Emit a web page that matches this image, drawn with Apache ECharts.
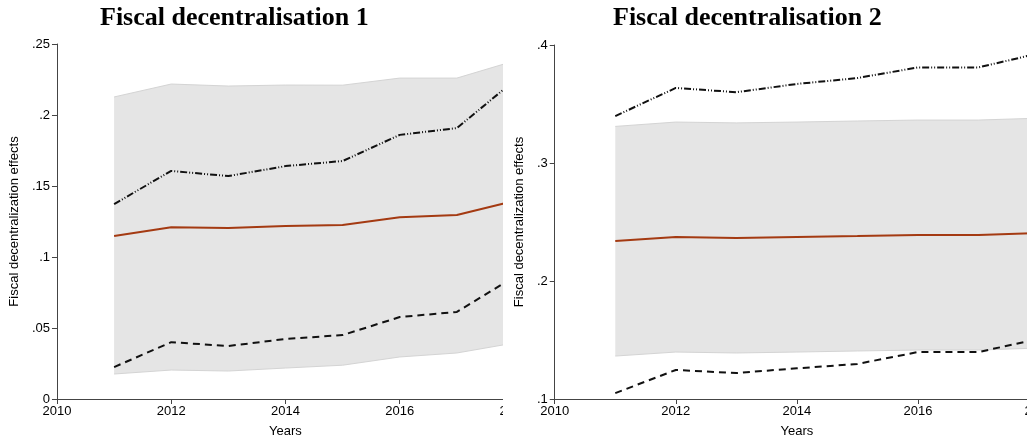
<!DOCTYPE html>
<html>
<head>
<meta charset="utf-8">
<script src="https://cdn.jsdelivr.net/npm/echarts@6/dist/echarts.min.js"></script>
<style>
  html, body { margin: 0; padding: 0; background: #fff; }
  body { width: 1027px; height: 445px; position: relative; overflow: hidden; }
  .clip { position: absolute; top: 0; height: 445px; overflow: hidden; }
  .inner { position: absolute; left: 0; top: 0; height: 445px; }
</style>
</head>
<body>
<div class="clip" style="left:0;width:503px;"><div id="c1" class="inner" style="width:600px;"></div></div>
<div class="clip" style="left:505px;width:522px;"><div id="c2" class="inner" style="width:620px;"></div></div>
<script>
// ---- data ----
const axisYears = ['2010', '2011', '2012', '2013', '2014', '2015', '2016', '2017', '2018'];
const years = [2011, 2012, 2013, 2014, 2015, 2016, 2017, 2018];

// Panel 1: Fiscal decentralisation 1
const fd1BandLow  = [0.0176, 0.0204, 0.0197, 0.0218, 0.0238, 0.0296, 0.0324, 0.0394];
const fd1BandHigh = [0.2127, 0.2218, 0.2204, 0.2211, 0.2210, 0.2260, 0.2260, 0.2380];
const fd1Effect   = [0.1148, 0.1210, 0.1204, 0.1218, 0.1225, 0.1280, 0.1296, 0.1394];
const fd1UpperLn  = [0.1373, 0.1606, 0.1570, 0.1640, 0.1676, 0.1860, 0.1908, 0.2240];
const fd1LowerLn  = [0.0225, 0.0400, 0.0373, 0.0423, 0.0450, 0.0577, 0.0613, 0.0859];

// Panel 2: Fiscal decentralisation 2
const fd2BandLow  = [0.1364, 0.1398, 0.1390, 0.1398, 0.1407, 0.1415, 0.1415, 0.1432];
const fd2BandHigh = [0.3310, 0.3347, 0.3340, 0.3347, 0.3356, 0.3364, 0.3364, 0.3380];
const fd2Effect   = [0.2339, 0.2373, 0.2364, 0.2373, 0.2381, 0.2390, 0.2390, 0.2407];
const fd2UpperLn  = [0.3398, 0.3636, 0.3600, 0.3670, 0.3720, 0.3810, 0.3810, 0.3930];
const fd2LowerLn  = [0.1050, 0.1246, 0.1220, 0.1260, 0.1297, 0.1398, 0.1398, 0.1510];

const titles = ['Fiscal decentralisation 1', 'Fiscal decentralisation 2'];
const yName = 'Fiscal decentralization effects';
const xName = 'Years';

// ---- helpers ----
// align a series (2011..2018) to the axis categories (2010..2018)
function aligned(vals) {
  return axisYears.map(c => {
    const i = years.indexOf(+c);
    return i < 0 ? null : vals[i];
  });
}
function fmt(v) {
  const s = String(+v.toFixed(2));
  return s === '0' ? '0' : s.replace(/^0\./, '.');
}

function makeOption(cfg) {
  const diff = cfg.high.map((h, i) => h - cfg.low[i]);
  const axisColor = '#444';
  const font = 'Liberation Sans, Arial, sans-serif';
  return {
    animation: false,
    backgroundColor: '#fff',
    graphic: [{
      type: 'text', left: cfg.titleX, top: 5,
      style: { text: cfg.title, font: 'bold 26px "Liberation Serif", "Times New Roman", serif', fill: '#000' }
    }],
    grid: { left: cfg.gridLeft, top: cfg.gridTop, width: cfg.gridWidth, height: cfg.gridHeight, containLabel: false },
    xAxis: {
      type: 'category', data: axisYears, boundaryGap: false,
      axisLine: { show: true, lineStyle: { color: axisColor, width: 1 } },
      axisTick: { show: true, length: 5, interval: 1, lineStyle: { color: axisColor } },
      axisLabel: { color: '#000', fontSize: 13, fontFamily: font, margin: 6, interval: 1 },
      splitLine: { show: false },
      name: xName, nameLocation: 'middle', nameGap: 26,
      nameTextStyle: { color: '#000', fontSize: 13, fontFamily: font }
    },
    yAxis: {
      type: 'value', min: cfg.yMin, max: cfg.yMax, interval: cfg.yInt,
      axisLine: { show: true, lineStyle: { color: axisColor, width: 1 } },
      axisTick: { show: true, length: 5, lineStyle: { color: axisColor } },
      axisLabel: { color: '#000', fontSize: 13, fontFamily: font, margin: 7, formatter: fmt },
      splitLine: { show: false },
      name: yName, nameLocation: 'middle', nameGap: cfg.yNameGap, nameRotate: 90,
      nameTextStyle: { color: '#000', fontSize: 13, fontFamily: font }
    },
    series: [
      { type: 'line', data: aligned(cfg.low), stack: 'band', symbol: 'none', z: 1,
        lineStyle: { color: '#d4d4d4', width: 1 } },
      { type: 'line', data: aligned(diff), stack: 'band', symbol: 'none', z: 1,
        lineStyle: { color: '#d4d4d4', width: 1 },
        areaStyle: { color: '#e5e5e5', opacity: 1 } },
      { type: 'line', data: aligned(cfg.effect), symbol: 'none', z: 3,
        lineStyle: { color: '#a43a12', width: 2 } },
      { type: 'line', data: aligned(cfg.upperLn), symbol: 'none', z: 3,
        lineStyle: { color: '#111', width: 2, type: [7, 2, 1, 2, 1, 2] } },
      { type: 'line', data: aligned(cfg.lowerLn), symbol: 'none', z: 3,
        lineStyle: { color: '#111', width: 2, type: [7, 5] } }
    ]
  };
}

const c1 = echarts.init(document.getElementById('c1'), null, { renderer: 'canvas' });
c1.setOption(makeOption({
  title: titles[0], titleX: 100,
  gridLeft: 55, gridTop: 44, gridWidth: 459, gridHeight: 355,
  yMin: 0, yMax: 0.25, yInt: 0.05, yNameGap: 34,
  low: fd1BandLow, high: fd1BandHigh, effect: fd1Effect, upperLn: fd1UpperLn, lowerLn: fd1LowerLn
}));

const c2 = echarts.init(document.getElementById('c2'), null, { renderer: 'canvas' });
c2.setOption(makeOption({
  title: titles[1], titleX: 108,
  gridLeft: 49, gridTop: 45, gridWidth: 485, gridHeight: 354,
  yMin: 0.1, yMax: 0.4, yInt: 0.1, yNameGap: 28,
  low: fd2BandLow, high: fd2BandHigh, effect: fd2Effect, upperLn: fd2UpperLn, lowerLn: fd2LowerLn
}));
</script>
</body>
</html>
